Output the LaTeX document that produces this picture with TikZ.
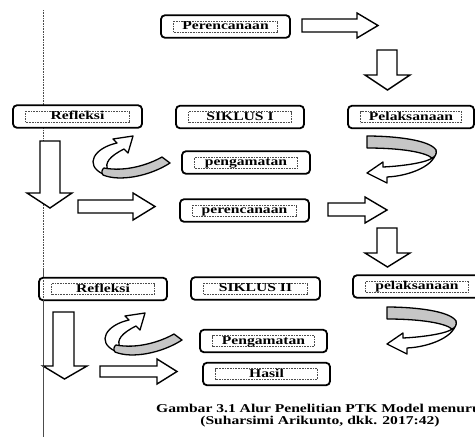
\documentclass[tikz,border=0pt]{standalone}
\usepackage{fontspec}
\newfontfamily\bx[FakeStretch=1.3]{Liberation Serif}
\newcommand\twobox[5]{%
  \node[obox,minimum width=#4pt] (#1) at (#2,#3) {};
  \node[ibox,minimum width=#4pt-25pt] (#1t) at (#2,#3) {#5};}
\begin{document}
\begin{tikzpicture}[x=1pt,y=-1pt,
  obox/.style={draw=black,line width=1.8pt,rounded corners=4pt,fill=white,minimum height=22.5pt,inner sep=0pt},
  ibox/.style={draw=black!70,line width=0.6pt,dash pattern=on 0.8pt off 0.8pt,minimum height=11pt,inner sep=0pt,text height=8pt,text depth=2pt,font=\bx\bfseries\fontsize{12}{12}\selectfont},
  captext/.style={inner sep=0pt,font=\bx\bfseries\fontsize{12}{12}\selectfont},
  barrow/.style={draw=black,line width=1.4pt,fill=white,line join=miter},
  ribbon/.style={draw=black,line width=1.3pt,fill=gray!45,line join=round},
  curved/.style={draw=black,line width=1.3pt,fill=white,line join=round},
  guide/.style={draw=black!70,line width=0.6pt,dash pattern=on 0.8pt off 0.8pt},
  curvR/.pic={
    \draw[curved] (436,150) .. controls (437,165) and (410,176) .. (387,177) -- (387,183) -- (367,173) -- (383,162) -- (383,167) .. controls (405,166) and (428,162) .. (432,158) -- cycle;
    \draw[ribbon] (367,136) .. controls (395,136) and (430,140) .. (436,150) .. controls (437,154) and (435,157) .. (432,158) .. controls (425,152) and (400,148) .. (367,148) -- cycle;
  },
  curvL/.pic={
    \draw[curved] (103,174) .. controls (84,165) and (94,148) .. (117,143) -- (113,139) -- (133,136) -- (128,153) -- (124,149) .. controls (110,156) and (104,163) .. (108,170) -- cycle;
    \draw[ribbon] (104,168) .. controls (125,172) and (148,165) .. (162,157) -- (170,163) .. controls (150,176) and (120,182) .. (103,175) .. controls (101,173) and (102,169) .. (104,168) -- cycle;
  }
]
\useasboundingbox (0,0) rectangle (475,437);
\fill[white] (0,0) rectangle (475,437);
% vertical guide line
\draw[guide] (43,10) -- (43,437);
% boxes
\twobox{p1}{225.5}{26.5}{129}{Perencanaan}
\twobox{r1}{77.5}{116.5}{129}{Refleksi}
\twobox{s1}{240}{117}{128}{SIKLUS I}
\twobox{l1}{411}{117}{126}{Pelaksanaan}
\twobox{g1}{246}{162.5}{128}{pengamatan}
\twobox{e1}{244.5}{210.5}{129}{perencanaan}
\twobox{r2}{103}{289}{128}{Refleksi}
\twobox{s2}{255.5}{288.5}{129}{SIKLUS II}
\twobox{l2}{417}{286.5}{128}{pelaksanaan}
\twobox{g2}{263.5}{341}{127}{Pengamatan}
\twobox{h2}{266.5}{374}{127}{Hasil}
% straight block arrows
\draw[barrow] (302,19) -- (357,19) -- (357,13) -- (378,25.5) -- (357,38) -- (357,32) -- (302,32) -- cycle;
\draw[barrow] (377,50) -- (397,50) -- (397,75) -- (410,75) -- (387.5,90) -- (365,75) -- (377,75) -- cycle;
\draw[barrow] (40,141) -- (60,141) -- (60,193) -- (72,193) -- (50,208) -- (27,193) -- (40,193) -- cycle;
\draw[barrow] (78,200) -- (133,200) -- (133,193) -- (155,206.5) -- (133,220) -- (133,213) -- (78,213) -- cycle;
\draw[barrow] (328,203) -- (365,203) -- (365,197) -- (387,210) -- (365,223) -- (365,216) -- (328,216) -- cycle;
\draw[barrow] (377,228) -- (397,228) -- (397,253) -- (410,253) -- (387.5,267) -- (365,253) -- (377,253) -- cycle;
\draw[barrow] (53,312) -- (74,312) -- (74,366) -- (87,366) -- (64.5,379) -- (43,366) -- (53,366) -- cycle;
\draw[barrow] (100,366) -- (157,366) -- (157,359) -- (177,371.5) -- (157,384) -- (157,377) -- (100,377) -- cycle;
% curved arrows
\pic at (0,0) {curvR};
\pic at (20,171) {curvR};
\pic at (0,0) {curvL};
\pic at (12,177) {curvL};
% guide line over the lower Refleksi box
\draw[guide] (43,270) -- (43,437);
% caption
\node[captext,anchor=base] (c1) at (321,412) {Gambar 3.1 Alur Penelitian PTK Model menurut};
\node[captext,anchor=base] (c2) at (320,424) {(Suharsimi Arikunto, dkk. 2017:42)};
\end{tikzpicture}
\end{document}
